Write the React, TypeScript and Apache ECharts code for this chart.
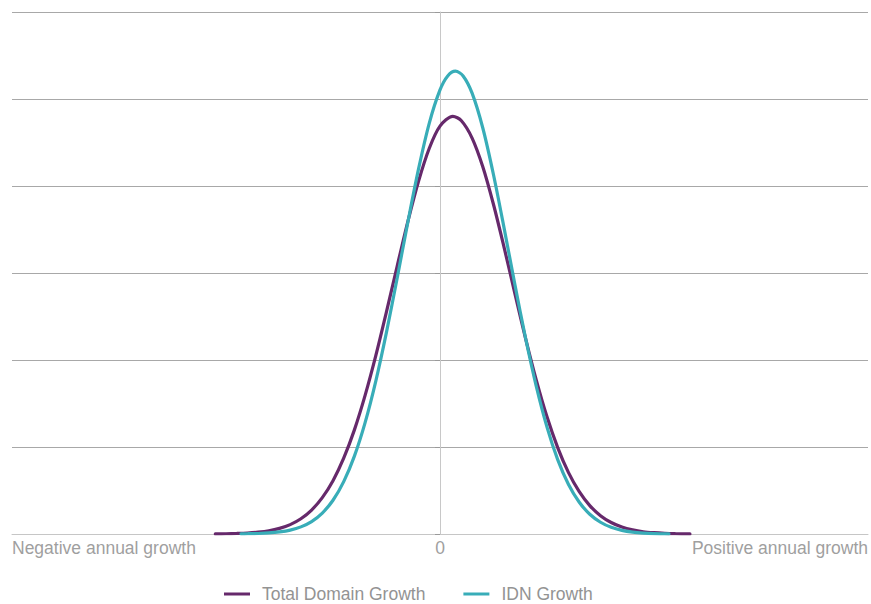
import React, { useEffect, useRef } from 'react';
import * as echarts from 'echarts';

// x in arbitrary growth units (-10 .. 10), y in density units (0 .. 6)
const totalX = [-5.25, -5, -4.75, -4.5, -4.25, -4, -3.75, -3.5, -3.25, -3, -2.75, -2.5, -2.25, -2, -1.75, -1.5, -1.25, -1, -0.75, -0.5, -0.25, 0, 0.3, 0.5, 0.75, 1, 1.25, 1.5, 1.75, 2, 2.25, 2.5, 2.75, 3, 3.25, 3.5, 3.75, 4, 4.25, 4.5, 4.75, 5, 5.25, 5.5, 5.84];
const totalY = [0.001, 0.003, 0.006, 0.011, 0.021, 0.037, 0.065, 0.108, 0.175, 0.275, 0.418, 0.613, 0.871, 1.197, 1.593, 2.05, 2.555, 3.08, 3.594, 4.057, 4.434, 4.688, 4.8, 4.75, 4.551, 4.221, 3.787, 3.289, 2.764, 2.247, 1.769, 1.347, 0.993, 0.708, 0.489, 0.326, 0.211, 0.132, 0.08, 0.047, 0.026, 0.015, 0.008, 0.004, 0.001];

const idnX = [-4.65, -4.5, -4.25, -4, -3.75, -3.5, -3.25, -3, -2.75, -2.5, -2.25, -2, -1.75, -1.5, -1.25, -1, -0.75, -0.5, -0.25, 0, 0.18, 0.36, 0.54, 0.75, 1, 1.25, 1.5, 1.75, 2, 2.25, 2.5, 2.75, 3, 3.25, 3.5, 3.75, 4, 4.25, 4.5, 4.75, 5, 5.35];
const idnY = [0.002, 0.003, 0.006, 0.012, 0.024, 0.045, 0.082, 0.143, 0.241, 0.388, 0.602, 0.895, 1.28, 1.758, 2.321, 2.943, 3.587, 4.199, 4.723, 5.104, 5.265, 5.32, 5.265, 5.067, 4.667, 4.129, 3.51, 2.866, 2.25, 1.697, 1.229, 0.855, 0.572, 0.368, 0.227, 0.135, 0.077, 0.042, 0.022, 0.011, 0.005, 0.002];

const xTickLabels = ['Negative annual growth', '0', 'Positive annual growth'];
const seriesNames = ['Total Domain Growth', 'IDN Growth'];
const seriesColors = ['#66296b', '#38adb8'];

export default function App() {
  const ref = useRef<HTMLDivElement>(null);
  useEffect(() => {
    const chart = echarts.init(ref.current!, null, { renderer: 'svg' });
    const font = 'Liberation Sans, Arial, Helvetica, sans-serif';
    chart.setOption({
      animation: false,
      grid: { left: 12, right: 3, top: 12, bottom: 70, containLabel: false },
      legend: {
        left: 224,
        top: 585,
        padding: 0,
        itemWidth: 26,
        itemHeight: 3,
        itemGap: 38,
        icon: 'rect',
        data: seriesNames,
        textStyle: { color: '#939393', fontSize: 17.5, fontFamily: font, padding: [0, 0, 0, 7] },
      },
      xAxis: {
        type: 'value',
        min: -10,
        max: 10,
        interval: 10,
        axisLine: { show: true, onZero: false, lineStyle: { color: '#c6c6c6', width: 1 } },
        axisTick: { show: false },
        splitLine: { show: false },
        axisLabel: {
          show: true,
          margin: 5,
          color: '#9f9f9f',
          fontSize: 17.5,
          fontFamily: font,
          alignMinLabel: 'left',
          alignMaxLabel: 'right',
          formatter: (v: number) => (v < 0 ? xTickLabels[0] : v > 0 ? xTickLabels[2] : xTickLabels[1]),
        },
      },
      yAxis: {
        type: 'value',
        min: 0,
        max: 6,
        interval: 1,
        axisLine: { show: true, onZero: true, lineStyle: { color: '#c8c8c8', width: 1 } },
        axisTick: { show: true, length: 5, lineStyle: { color: '#9a9a9a' } },
        axisLabel: { show: false },
        splitLine: { show: true, lineStyle: { color: '#a8a8a8', width: 1 } },
      },
      series: [
        {
          name: seriesNames[0],
          type: 'line',
          smooth: 0.3,
          showSymbol: false,
          data: totalX.map((x, i) => [x, totalY[i]]),
          itemStyle: { color: seriesColors[0] },
          lineStyle: { color: seriesColors[0], width: 3.2, cap: 'round' },
        },
        {
          name: seriesNames[1],
          type: 'line',
          smooth: 0.3,
          showSymbol: false,
          data: idnX.map((x, i) => [x, idnY[i]]),
          itemStyle: { color: seriesColors[1] },
          lineStyle: { color: seriesColors[1], width: 3.2, cap: 'round' },
        },
      ],
    });
    return () => chart.dispose();
  }, []);
  return <div ref={ref} style={{ position: 'absolute', left: 0, top: 0, width: 871, height: 604 }} />;
}
